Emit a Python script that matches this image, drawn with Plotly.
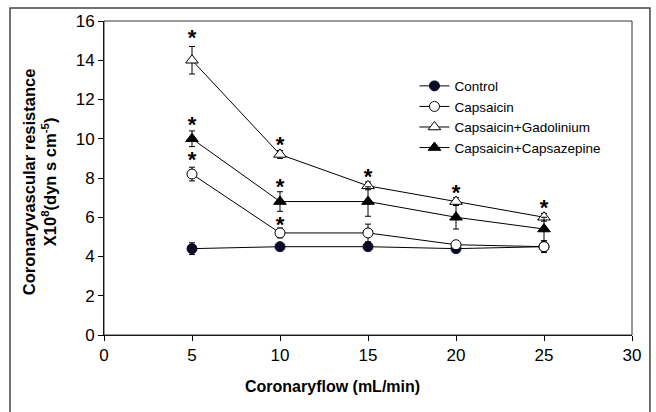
import plotly.graph_objects as go

flow = [5, 10, 15, 20, 25]

control = [4.4, 4.5, 4.5, 4.4, 4.5]
control_err = [0.3, 0.15, 0.15, 0.15, 0.15]

capsaicin = [8.2, 5.2, 5.2, 4.6, 4.5]
capsaicin_err = [0.35, 0.25, 0.45, 0.15, 0.3]

gadolinium = [14.0, 9.2, 7.6, 6.8, 6.0]
gadolinium_err = [0.7, 0.2, 0.2, 0.2, 0.2]

capsazepine = [10.0, 6.8, 6.8, 6.0, 5.4]
capsazepine_err = [0.4, 0.5, 0.75, 0.6, 0.6]

star_x = [5, 5, 5, 10, 10, 10, 15, 20, 25]
star_y = [15.08, 10.6, 8.82, 9.63, 7.44, 5.55, 7.95, 7.18, 6.42]

x_ticks = [0, 5, 10, 15, 20, 25, 30]
y_ticks = [0, 2, 4, 6, 8, 10, 12, 14, 16]

x_title = "<b>Coronaryflow (mL/min)</b>"
y_title = "<b>Coronaryvascular resistance<br>X10<sup>8</sup>(dyn s cm<sup>-5</sup>)</b>"

FONT = "Liberation Sans, Arial, sans-serif"

fig = go.Figure()

def add_series(name, y, err, symbol, fill, mcolor):
    fig.add_trace(go.Scatter(
        x=flow, y=y, name=name, mode="lines+markers",
        line=dict(color="black", width=1),
        marker=dict(symbol=symbol, size=10 if "circle" in symbol else 11,
                    color=fill, line=dict(color=mcolor, width=1)),
        error_y=dict(type="data", array=err, visible=True, color="black",
                     thickness=1, width=3),
    ))

add_series("Control", control, control_err, "circle", "#0a0a2a", "#0a0a2a")
add_series("Capsaicin", capsaicin, capsaicin_err, "circle", "white", "black")
add_series("Capsaicin+Gadolinium", gadolinium, gadolinium_err, "triangle-up", "white", "black")
add_series("Capsaicin+Capsazepine", capsazepine, capsazepine_err, "triangle-up", "black", "black")

fig.add_trace(go.Scatter(
    x=star_x, y=star_y, mode="text", text=["<b>*</b>"] * len(star_x),
    textfont=dict(family=FONT, size=22, color="black"),
    textposition="middle center", showlegend=False, hoverinfo="skip",
))

# outer frame
fig.add_shape(type="rect", xref="paper", yref="paper",
              x0=-0.178, x1=1.034, y0=-0.3, y1=1.0414,
              line=dict(color="#444444", width=1.5), fillcolor="rgba(0,0,0,0)",
              layer="below")
# plot-area box
fig.add_shape(type="rect", xref="paper", yref="paper",
              x0=0, x1=1, y0=0, y1=1,
              line=dict(color="#333333", width=1), fillcolor="rgba(0,0,0,0)")

# axis titles
fig.add_annotation(text=y_title, xref="paper", yref="paper", x=-0.123, y=0.487,
                   xanchor="center", yanchor="middle", textangle=-90, showarrow=False,
                   font=dict(family=FONT, size=16.5, color="black"))
fig.add_annotation(text=x_title, xref="paper", yref="paper", x=0.432, y=-0.163,
                   xanchor="center", yanchor="middle", showarrow=False,
                   font=dict(family=FONT, size=16, color="black"))

fig.update_layout(
    width=656, height=412,
    margin=dict(l=104, r=24, t=21, b=77, autoexpand=False),
    paper_bgcolor="white", plot_bgcolor="white",
    font=dict(family=FONT, size=17, color="black"),
    showlegend=True,
    legend=dict(x=0.588, y=0.842, xanchor="left", yanchor="top",
                bgcolor="rgba(0,0,0,0)", font=dict(size=13.5),
                tracegroupgap=0, itemwidth=30),
    xaxis=dict(range=[0, 30], tickvals=x_ticks, ticks="outside", ticklen=5,
               tickcolor="black", showline=True, linecolor="black", linewidth=1,
               showgrid=False, zeroline=False, tickfont=dict(size=17), automargin=False),
    yaxis=dict(range=[0, 16], tickvals=y_ticks, ticks="outside", ticklen=5,
               tickcolor="black", showline=True, linecolor="black", linewidth=1,
               showgrid=False, zeroline=False, tickfont=dict(size=17), automargin=False),
)

fig.write_html("out.html", config={"displayModeBar": False},
               post_script="document.body.style.margin='0';document.body.style.overflow='hidden';")
